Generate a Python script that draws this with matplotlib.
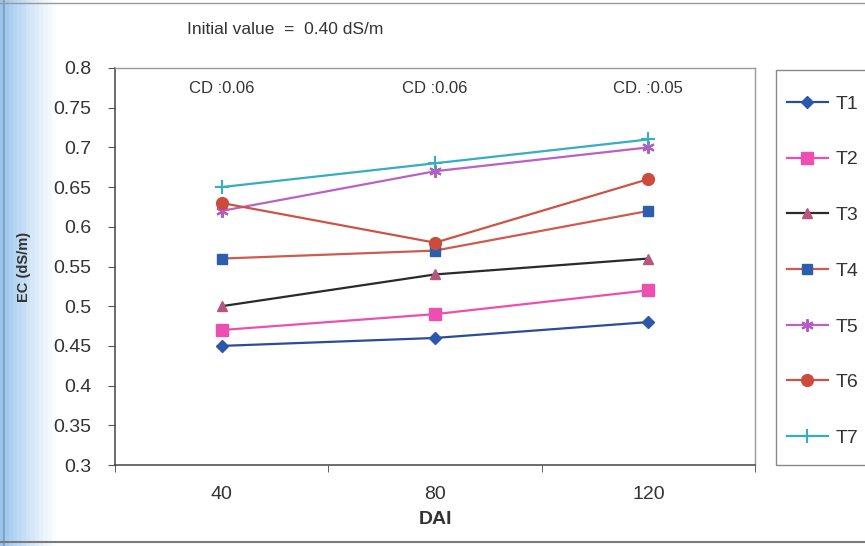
import matplotlib
matplotlib.use("Agg")
import matplotlib.pyplot as plt
import numpy as np
from matplotlib.patches import Rectangle

plt.rcParams['font.family'] = ['Liberation Sans', 'DejaVu Sans']

categories = ["40", "80", "120"]
series_names = ["T1", "T2", "T3", "T4", "T5", "T6", "T7"]
T1 = [0.45, 0.46, 0.48]
T2 = [0.47, 0.49, 0.52]
T3 = [0.50, 0.54, 0.56]
T4 = [0.56, 0.57, 0.62]
T5 = [0.62, 0.67, 0.70]
T6 = [0.63, 0.58, 0.66]
T7 = [0.65, 0.68, 0.71]
cd_labels = ["CD :0.06", "CD :0.06", "CD. :0.05"]
y_ticks = [0.3, 0.35, 0.4, 0.45, 0.5, 0.55, 0.6, 0.65, 0.7, 0.75, 0.8]
y_tick_labels = ["0.3", "0.35", "0.4", "0.45", "0.5", "0.55", "0.6", "0.65", "0.7", "0.75", "0.8"]

values = [T1, T2, T3, T4, T5, T6, T7]
line_colors = ["#2b4c9b", "#ec4fb0", "#2a2a2a", "#cf5a4e", "#b862c4", "#cc5444", "#35aebf"]
marker_colors = ["#2b58ad", "#ec4fb0", "#b8557c", "#2b5fae", "#b45cc6", "#cc4b3c", "#35aebf"]
markers = ["D", "s", "^", "s", (6, 2, 0), "o", "+"]
msizes = [6.5, 8, 7, 6.5, 9, 8.5, 10]

W, H = 865, 546
fig = plt.figure(figsize=(W / 100, H / 100), dpi=100)
fig.patch.set_facecolor("white")

# scanned page decorations: blue binding shade on left, page rules
bg = fig.add_axes([0, 0, 1, 1], zorder=-10)
bg.set_axis_off()
grad = np.ones((10, 200, 3))
xs = np.linspace(0, 1, 200)
shade = np.clip(1 - xs / 0.065, 0, 1) ** 1.2
base = np.array([0.60, 0.77, 0.93])
for i in range(3):
    grad[:, :, i] = 1 - shade * (1 - base[i])
bg.imshow(grad, extent=[0, 1, 0, 1], aspect="auto")
bg.set_xlim(0, 1)
bg.set_ylim(0, 1)
bg.plot([0.005, 0.005], [0, 1], color="#7f9bb8", lw=1.2)
bg.plot([0, 1], [1 - 3 / H, 1 - 3 / H], color="#9a9a9a", lw=1.0)
bg.plot([0, 1], [1 - 542 / H, 1 - 542 / H], color="#7a7a7a", lw=1.5)

left, right, top, bottom = 115, 755, 68, 465
ax = fig.add_axes([left / W, 1 - bottom / H, (right - left) / W, (bottom - top) / H])
ax.set_facecolor("white")

x = np.arange(len(categories))
handles = []
for name, vals, lc, mc, mk, ms in zip(series_names, values, line_colors, marker_colors, markers, msizes):
    ln, = ax.plot(x, vals, color=lc, lw=1.6, marker=mk, markersize=ms,
                  markerfacecolor=mc, markeredgecolor=mc,
                  markeredgewidth=1.5 if mk in ["+", (6, 2, 0)] else 1.0,
                  label=name, zorder=3)
    handles.append(ln)

ax.set_xlim(-0.5, len(categories) - 0.5)
ax.set_ylim(0.3, 0.8)
ax.set_yticks(y_ticks)
ax.set_yticklabels(y_tick_labels, fontsize=14, color="#333333")
ax.set_xticks(x)
ax.set_xticklabels(categories, fontsize=14, color="#333333")
ax.tick_params(axis="x", length=0, pad=15)
ax.set_xticks(np.arange(-0.5, len(categories) + 0.5, 1), minor=True)
ax.tick_params(axis="x", which="minor", length=5, color="#444444", direction="out")
ax.tick_params(axis="y", length=5, color="#555555", direction="out", pad=12)

for s in ["left", "bottom"]:
    ax.spines[s].set_color("#444444")
    ax.spines[s].set_linewidth(1.1)
for s in ["top", "right"]:
    ax.spines[s].set_color("#9a9a9a")
    ax.spines[s].set_linewidth(1.0)

ax.set_xlabel("DAI", fontsize=14, fontweight="bold", color="#333333", labelpad=6)
ax.set_ylabel("EC (dS/m)", fontsize=10.5, fontweight="bold", color="#333333", labelpad=16)

for xi, lab in zip(x, cd_labels):
    ax.text(xi, 0.774, lab, ha="center", va="center", fontsize=12, color="#333333")

fig.text(285 / W, 1 - 29 / H, "Initial value  =  0.40 dS/m", ha="center", va="center",
         fontsize=12.5, color="#333333")

# legend frame (extends past right page edge as in the scan)
fig.patches.append(Rectangle((776 / W, 1 - 465 / H), 120 / W, 395 / H,
                             transform=fig.transFigure, fill=False,
                             edgecolor="#8a8a8a", linewidth=1.0, clip_on=False))
leg = fig.legend(handles=handles, loc="upper left",
                 bbox_to_anchor=(787 / W, 1 - 95 / H),
                 fontsize=14, frameon=False,
                 labelspacing=1.96, handlelength=2.1, handletextpad=0.4,
                 borderpad=0.0, borderaxespad=0)
for t in leg.get_texts():
    t.set_color("#333333")

fig.savefig("out.png", dpi=100, facecolor=fig.get_facecolor())
